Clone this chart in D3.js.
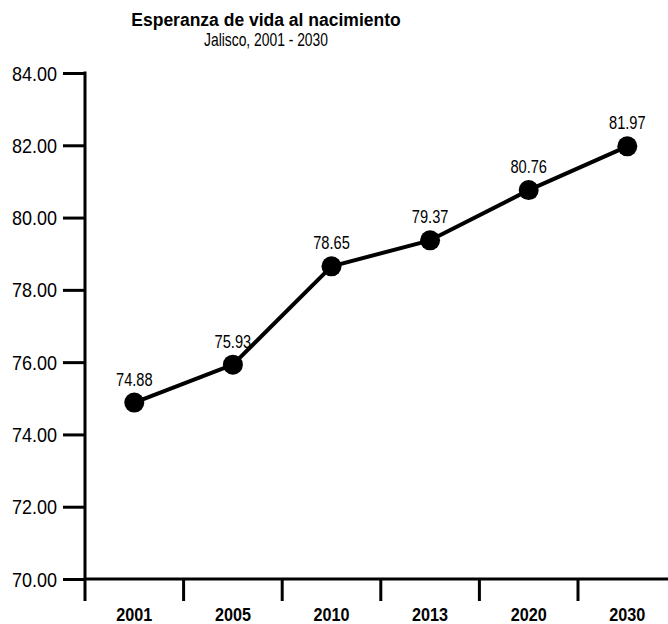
<!DOCTYPE html>
<html>
<head>
<meta charset="utf-8">
<script src="https://cdn.jsdelivr.net/npm/d3@7"></script>
<style>
  html, body { margin: 0; padding: 0; background: #fff; }
  svg { display: block; }
  text { font-family: "Liberation Sans", Arial, sans-serif; }
  .bold { font-weight: bold; }
</style>
</head>
<body>
<svg id="chart" width="668" height="624"></svg>
<script>
// Life expectancy at birth, Jalisco
const years = ["2001", "2005", "2010", "2013", "2020", "2030"];
const lifeExpectancy = [74.88, 75.93, 78.65, 79.37, 80.76, 81.97];
const yTicks = [70, 72, 74, 76, 78, 80, 82, 84];

const titleText = "Esperanza de vida al nacimiento";
const subtitleText = "Jalisco, 2001 - 2030";

const svg = d3.select("#chart");
const plotLeft = 85, plotTop = 73, plotBottom = 579;
const step = 98.6;

const x = d3.scaleBand().domain(years).range([plotLeft, plotLeft + step * years.length]).padding(0);
const y = d3.scaleLinear().domain([70, 84]).range([plotBottom, plotTop]);

const ink = "#000";

// Condensed text: squeeze glyphs horizontally around an anchor point
function condensed(sel, cx, cy, k) {
  return sel.attr("x", null).attr("y", null)
    .attr("transform", `translate(${cx},${cy}) scale(${k},1)`);
}

// Titles
svg.append("text").attr("class", "bold")
  .attr("x", 266).attr("y", 26).attr("text-anchor", "middle")
  .attr("font-size", 17.5).attr("fill", ink).text(titleText);
svg.append("text")
  .call(condensed, 266, 46, 0.77)
  .attr("text-anchor", "middle")
  .attr("font-size", 18).attr("fill", ink).text(subtitleText);

// Y axis: ticks reach left of the spine, labels right-aligned
const yAxis = svg.append("g").attr("transform", `translate(${plotLeft},0)`)
  .call(d3.axisLeft(y).tickValues(yTicks).tickSize(22).tickPadding(6)
    .tickFormat(d3.format(".2f")));
yAxis.select(".domain").remove();
yAxis.selectAll(".tick line").attr("stroke", ink).attr("stroke-width", 3);
yAxis.selectAll(".tick text")
  .each(function () { d3.select(this).call(condensed, -28, 0, 0.9); })
  .attr("dy", "0.35em")
  .attr("font-size", 20).attr("fill", ink);
// spine runs down through the baseline to the tick ends
svg.append("line")
  .attr("x1", plotLeft).attr("x2", plotLeft)
  .attr("y1", y(84) - 1.5).attr("y2", plotBottom + 22)
  .attr("stroke", ink).attr("stroke-width", 3);

// X axis baseline with boundary ticks between categories
svg.append("line")
  .attr("x1", plotLeft).attr("x2", 668)
  .attr("y1", plotBottom).attr("y2", plotBottom)
  .attr("stroke", ink).attr("stroke-width", 3);
svg.append("g").selectAll("line")
  .data(years.slice(1))
  .join("line")
  .attr("x1", d => x(d)).attr("x2", d => x(d))
  .attr("y1", plotBottom).attr("y2", plotBottom + 22)
  .attr("stroke", ink).attr("stroke-width", 3);

const xAxis = svg.append("g").attr("transform", `translate(0,${plotBottom})`)
  .call(d3.axisBottom(x).tickSize(0).tickPadding(20));
xAxis.select(".domain").remove();
xAxis.selectAll(".tick text").attr("class", "bold")
  .each(function () { d3.select(this).call(condensed, 0, 42, 0.9); })
  .attr("dy", null)
  .attr("font-size", 18).attr("fill", ink);

// Series line and markers
const pts = years.map((d, i) => [x(d) + x.bandwidth() / 2, y(lifeExpectancy[i])]);
svg.append("path")
  .attr("d", d3.line()(pts))
  .attr("fill", "none").attr("stroke", ink).attr("stroke-width", 4)
  .attr("stroke-linejoin", "round");
svg.append("g").selectAll("circle")
  .data(lifeExpectancy)
  .join("circle")
  .attr("cx", (d, i) => x(years[i]) + x.bandwidth() / 2)
  .attr("cy", d => y(d))
  .attr("r", 10).attr("fill", ink);

// Value labels
svg.append("g").selectAll("text")
  .data(lifeExpectancy)
  .join("text")
  .each(function (d, i) {
    d3.select(this).call(condensed, x(years[i]) + x.bandwidth() / 2, y(d) - 17, 0.77);
  })
  .attr("text-anchor", "middle")
  .attr("font-size", 19).attr("fill", ink)
  .text(d => d.toFixed(2));
</script>
</body>
</html>
